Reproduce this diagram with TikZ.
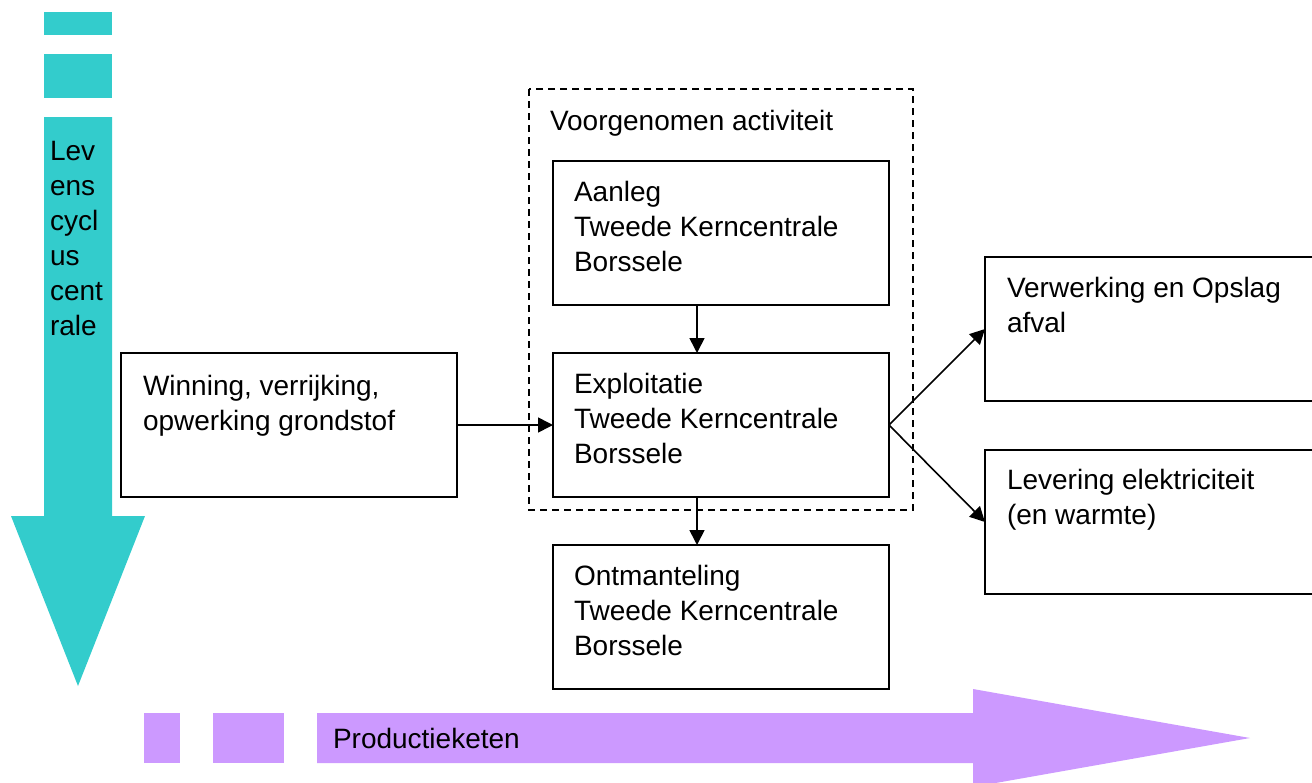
\documentclass[tikz,border=0pt]{standalone}
\usepackage{fontspec}
\setmainfont{Liberation Sans}
\usetikzlibrary{arrows.meta}
\definecolor{teal1}{HTML}{33CCCC}
\definecolor{lilac}{HTML}{CC99FF}
\tikzset{
  box/.style={draw=black, line width=2pt, minimum width=336pt, minimum height=144pt, anchor=north west, inner sep=0pt, outer sep=0pt},
  wide/.style={box, minimum width=345pt},
  txt/.style={inner sep=0pt, outer sep=0pt, anchor=north west, align=left, font=\fontsize{28}{35}\selectfont},
  conn/.style={draw=black, line width=1.6pt, -{Triangle[length=15pt,width=15pt]}},
  dashbox/.style={draw=black, line width=1.8pt, dash pattern=on 7pt off 5pt}
}
\begin{document}
\begin{tikzpicture}[x=1pt,y=-1pt]
\useasboundingbox (0,0) rectangle (1312,782);
\clip (0,0) rectangle (1312,782);
% teal life-cycle arrow
\fill[teal1] (44,12) rectangle (112,35);
\fill[teal1] (44,54) rectangle (112,98);
\fill[teal1] (44,117) -- (112,117) -- (112,516) -- (145,516) -- (78,686) -- (11,516) -- (44,516) -- cycle;
\node[txt] (lev) at (50,160-24.5) {\strut Lev\\ens\\cycl\\us\\cent\\rale};
% purple production-chain arrow
\fill[lilac] (144,713) rectangle (180,763);
\fill[lilac] (213,713) rectangle (284,763);
\fill[lilac] (317,713) -- (973,713) -- (973,689) -- (1250,738) -- (973,787) -- (973,763) -- (317,763) -- cycle;
\node[txt] (prod) at (333,748-24.5) {\strut Productieketen};
% dashed frame
\draw[dashbox] (529,89) rectangle (913,510);
\node[txt] (voor) at (550,130-24.5) {\strut Voorgenomen activiteit};
% boxes
\node[box] (win) at (121,353) {};
\node[box] (aan) at (553,161) {};
\node[box] (exp) at (553,353) {};
\node[box] (ont) at (553,545) {};
\node[wide] (ver) at (985,257) {};
\node[wide] (leve) at (985,450) {};
% texts
\node[txt] at (143,395-24.5) {\strut Winning, verrijking,\\opwerking grondstof};
\node[txt] at (574,201-24.5) {\strut Aanleg\\Tweede Kerncentrale\\Borssele};
\node[txt] at (574,393-24.5) {\strut Exploitatie\\Tweede Kerncentrale\\Borssele};
\node[txt] at (574,585-24.5) {\strut Ontmanteling\\Tweede Kerncentrale\\Borssele};
\node[txt] at (1007,297-24.5) {\strut Verwerking en Opslag\\afval};
\node[txt] at (1007,489-24.5) {\strut Levering elektriciteit\\(en warmte)};
% connectors
\draw[conn] ([xshift=144pt]aan.south west) -- ([xshift=144pt]exp.north west);
\draw[conn] (win.east) -- (exp.west);
\draw[conn] ([xshift=144pt]exp.south west) -- ([xshift=144pt]ont.north west);
\draw[conn] (exp.east) -- (ver.west);
\draw[conn] (exp.east) -- (leve.west);
\end{tikzpicture}
\end{document}
